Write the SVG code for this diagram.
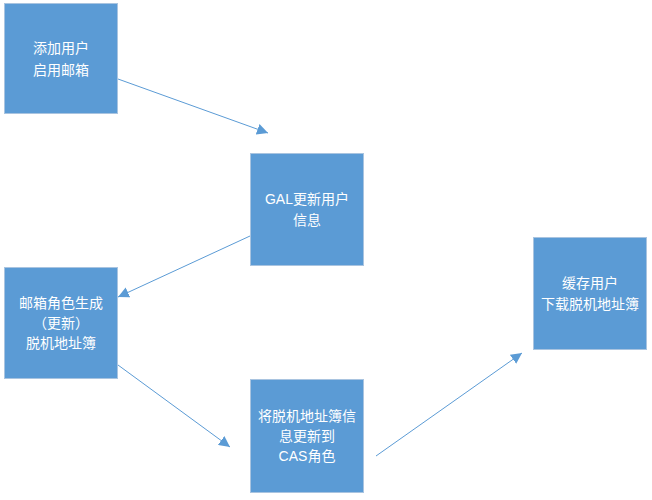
<svg xmlns="http://www.w3.org/2000/svg" width="652" height="500" viewBox="0 0 652 500">
<defs>
<style>
.box{fill:#5B9BD5;stroke:#A9C4E0;stroke-width:1}
.t{fill:#ffffff;font-family:"Liberation Sans","Noto Sans CJK SC",sans-serif;font-size:14px;text-anchor:middle}
.c{stroke:#5B9BD5;stroke-width:1;fill:none;marker-end:url(#ah)}
</style>
<marker id="ah" viewBox="0 0 10 10" refX="10" refY="5" markerWidth="11" markerHeight="11" markerUnits="userSpaceOnUse" orient="auto">
<path d="M0,0 L10,5 L0,10 z" fill="#5B9BD5"/>
</marker>
</defs>
<rect width="652" height="500" fill="#ffffff"/>
<g id="n1"><rect class="box" x="4.5" y="3.5" width="113" height="110"/>
<text class="t" x="61" y="53">添加用户</text><text class="t" x="61" y="75">启用邮箱</text></g>
<g id="n2"><rect class="box" x="250.5" y="153.5" width="113" height="112"/>
<text class="t" x="307" y="204">GAL更新用户</text><text class="t" x="307" y="225">信息</text></g>
<g id="n3"><rect class="box" x="4.5" y="267.5" width="113" height="111"/>
<text class="t" x="61" y="308">邮箱角色生成</text><text class="t" x="61" y="328">（更新）</text><text class="t" x="61" y="348">脱机地址簿</text></g>
<g id="n4"><rect class="box" x="250.5" y="379.5" width="113" height="113"/>
<text class="t" x="307" y="421">将脱机地址簿信</text><text class="t" x="307" y="441">息更新到</text><text class="t" x="307" y="461">CAS角色</text></g>
<g id="n5"><rect class="box" x="533.5" y="237.5" width="113" height="112"/>
<text class="t" x="590" y="288">缓存用户</text><text class="t" x="590" y="309">下载脱机地址簿</text></g>
<g id="connectors">
<line class="c" x1="118" y1="79" x2="268" y2="133"/>
<line class="c" x1="250" y1="236" x2="118" y2="297"/>
<line class="c" x1="118" y1="365" x2="230" y2="447"/>
<line class="c" x1="376" y1="456" x2="522" y2="353"/>
</g>
</svg>
